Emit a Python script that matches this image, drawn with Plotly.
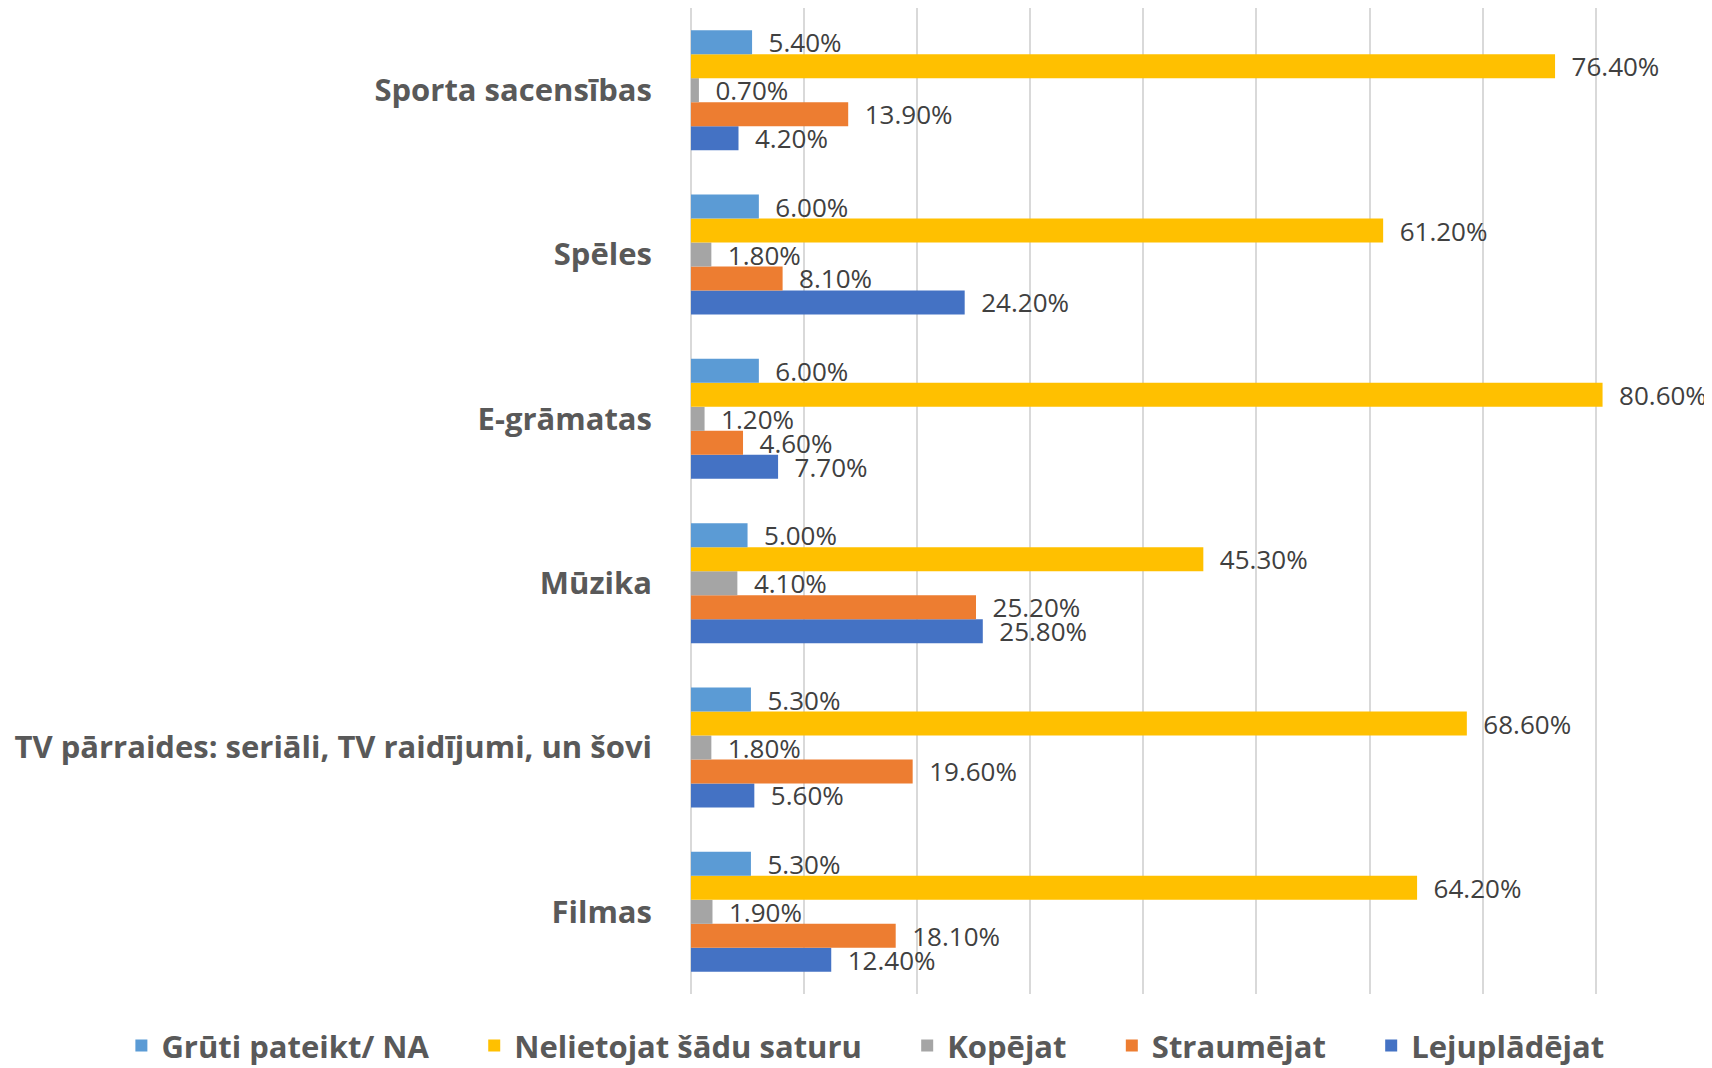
import plotly.graph_objects as go

categories = ["Filmas", "TV pārraides: seriāli, TV raidījumi, un šovi", "Mūzika",
              "E-grāmatas", "Spēles", "Sporta sacensības"]

lejupladejat = [12.4, 5.6, 25.8, 7.7, 24.2, 4.2]
straumejat = [18.1, 19.6, 25.2, 4.6, 8.1, 13.9]
kopejat = [1.9, 1.8, 4.1, 1.2, 1.8, 0.7]
nelietojat = [64.2, 68.6, 45.3, 80.6, 61.2, 76.4]
gruti = [5.3, 5.3, 5.0, 6.0, 6.0, 5.4]

series = [
    ("Lejuplādējat", lejupladejat, "#4472C4"),
    ("Straumējat", straumejat, "#ED7D31"),
    ("Kopējat", kopejat, "#A5A5A5"),
    ("Nelietojat šādu saturu", nelietojat, "#FFC000"),
    ("Grūti pateikt/ NA", gruti, "#5B9BD5"),
]

font_family = "Open Sans, Lato, sans-serif"
pad = "\u00a0" * 5

fig = go.Figure()
for name, vals, color in series:
    fig.add_trace(go.Bar(
        name=name + pad, y=categories, x=vals, orientation="h",
        marker=dict(color=color, line=dict(width=0)),
        texttemplate="\u00a0\u00a0%{x:.2f}%", textposition="outside",
        constraintext="none", cliponaxis=False,
        textfont=dict(family=font_family, size=26, color="#404040"),
    ))

fig.update_layout(
    width=1704, height=1060,
    barmode="group", bargap=0.27, bargroupgap=0,
    plot_bgcolor="white", paper_bgcolor="white",
    margin=dict(l=683, r=2, t=0, b=74, autoexpand=False),
    font=dict(family=font_family),
    showlegend=True,
    legend=dict(
        orientation="h", traceorder="reversed",
        x=-0.559, xanchor="left", y=-0.0525, yanchor="middle",
        font=dict(family=font_family, size=31, color="#595959", weight="bold"),
        itemsizing="constant",
    ),
)
fig.update_xaxes(
    range=[0, 90.1], dtick=10, tick0=0, showgrid=True, gridcolor="#D9D9D9", gridwidth=2,
    showticklabels=False, zeroline=True, zerolinecolor="#D9D9D9", zerolinewidth=2,
    showline=False,
)
fig.update_yaxes(
    showgrid=False, showline=False, ticks="",
    ticklabelstandoff=38,
    tickfont=dict(family=font_family, size=31, color="#595959", weight="bold"),
)

fig.write_html("out.html")
